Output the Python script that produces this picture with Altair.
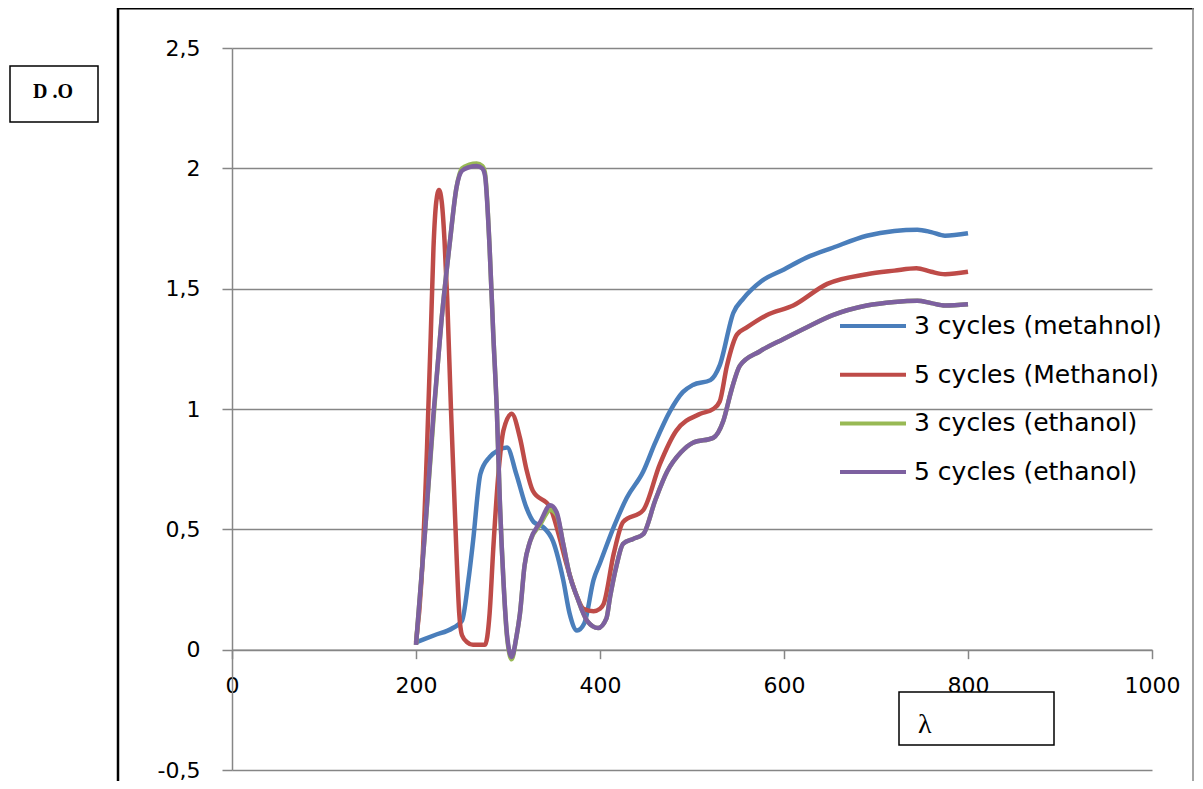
import altair as alt
import pandas as pd

# ---- data ----
series_names = ["3 cycles (metahnol)", "5 cycles (Methanol)", "3 cycles (ethanol)", "5 cycles (ethanol)"]
series_colors = ["#4A7EBB", "#BE4B48", "#98B954", "#7D60A0"]

lam_blue = [200, 220, 240, 250, 257, 262, 270, 280, 290, 299, 309, 320, 328, 338, 349, 360, 367, 375, 383,
            393, 400, 415, 429, 447, 460, 476, 490, 501, 520, 530, 545, 556, 575, 600, 625, 653, 690, 720,
            745, 760, 775, 800]
od_blue = [0.03, 0.06, 0.09, 0.12, 0.29, 0.45, 0.73, 0.80, 0.83, 0.84, 0.73, 0.59, 0.53, 0.51, 0.45, 0.29,
           0.15, 0.08, 0.11, 0.29, 0.36, 0.51, 0.63, 0.74, 0.86, 0.99, 1.07, 1.10, 1.12, 1.18, 1.40, 1.46,
           1.53, 1.58, 1.63, 1.67, 1.72, 1.74, 1.745, 1.735, 1.72, 1.73]

lam_red = [200, 206, 212, 216, 219, 222, 225, 228, 231, 234, 238, 241, 244, 247, 250, 256, 262, 275, 280,
           284, 290, 295, 304, 313, 320, 327, 346, 355, 364, 375, 382, 393, 400, 404, 415, 425, 447, 465,
           483, 509, 523, 530, 538, 549, 560, 581, 610, 647, 690, 720, 744, 760, 775, 800]
od_red = [0.03, 0.29, 0.84, 1.30, 1.67, 1.86, 1.91, 1.86, 1.70, 1.45, 1.00, 0.70, 0.40, 0.15, 0.06, 0.03,
          0.02, 0.02, 0.15, 0.42, 0.75, 0.91, 0.98, 0.88, 0.75, 0.66, 0.59, 0.48, 0.35, 0.22, 0.17, 0.16,
          0.17, 0.19, 0.40, 0.53, 0.58, 0.77, 0.91, 0.98, 1.00, 1.03, 1.18, 1.31, 1.34, 1.39, 1.43, 1.52,
          1.56, 1.575, 1.585, 1.57, 1.56, 1.57]

lam_green = [200, 210, 219, 228, 237, 244, 250, 258, 266, 272, 275, 280, 284, 288, 291, 295, 299, 304, 309,
             313, 318, 324, 335, 346, 353, 360, 367, 375, 386, 398, 407, 411, 418, 425, 436, 447, 460, 473,
             488, 501, 523, 534, 543, 552, 574, 599, 625, 653, 690, 720, 745, 760, 775, 800]
od_green = [0.02, 0.50, 0.96, 1.38, 1.70, 1.92, 2.00, 2.015, 2.02, 2.01, 1.98, 1.67, 1.31, 0.98, 0.63, 0.29,
            0.05, -0.04, 0.05, 0.15, 0.35, 0.45, 0.52, 0.58, 0.56, 0.44, 0.31, 0.22, 0.12, 0.09, 0.13, 0.22,
            0.35, 0.44, 0.46, 0.48, 0.62, 0.74, 0.82, 0.86, 0.88, 0.95, 1.08, 1.18, 1.24, 1.29, 1.34, 1.39,
            1.43, 1.445, 1.45, 1.44, 1.43, 1.435]

lam_purple = [200, 210, 219, 228, 237, 244, 250, 258, 266, 272, 275, 280, 284, 288, 291, 295, 299, 304, 309,
              313, 318, 324, 335, 346, 353, 360, 367, 375, 386, 398, 407, 411, 418, 425, 436, 447, 460, 473,
              488, 501, 523, 534, 543, 552, 574, 599, 625, 653, 690, 720, 745, 760, 775, 800]
od_purple = [0.02, 0.50, 0.98, 1.38, 1.70, 1.92, 1.99, 2.005, 2.01, 2.00, 1.97, 1.67, 1.31, 0.98, 0.63, 0.29,
             0.06, -0.03, 0.05, 0.15, 0.35, 0.45, 0.53, 0.60, 0.57, 0.44, 0.31, 0.22, 0.12, 0.09, 0.13, 0.22,
             0.35, 0.44, 0.46, 0.48, 0.62, 0.74, 0.82, 0.86, 0.88, 0.95, 1.08, 1.18, 1.24, 1.29, 1.34, 1.39,
             1.43, 1.445, 1.45, 1.44, 1.43, 1.435]

x_ticks = [0, 200, 400, 600, 800, 1000]
y_ticks = [-0.5, 0, 0.5, 1, 1.5, 2, 2.5]

y_label = "D .O"
x_label = "λ"

# ---- table ----
rows = []
for name, lams, ods in zip(series_names,
                           [lam_blue, lam_red, lam_green, lam_purple],
                           [od_blue, od_red, od_green, od_purple]):
    for l, v in zip(lams, ods):
        rows.append({"series": name, "lambda": l, "od": v})
df = pd.DataFrame(rows)

GRID = "#868686"
W, H = 920, 722
TOP = 40
RIGHT = 42
BOTTOM = 11

x_enc = alt.X("lambda:Q",
              scale=alt.Scale(domain=[0, 1000], nice=False),
              axis=alt.Axis(values=x_ticks, format="d", grid=False, offset=-H * 0.5 / 3.0, tickSize=9,
                            tickColor=GRID, tickWidth=1.5, domainColor=GRID, domainWidth=1.5,
                            labelFont="DejaVu Sans", labelFontSize=22, labelColor="black",
                            labelPadding=17, labelFlush=False, labelOverlap=False, title=None))
y_enc = alt.Y("od:Q",
              scale=alt.Scale(domain=[-0.5, 2.5], nice=False),
              axis=alt.Axis(values=y_ticks, grid=True, gridColor=GRID, gridWidth=1.5, tickSize=10,
                            tickColor=GRID, tickWidth=1.5, domainColor=GRID, domainWidth=1.5,
                            labelFont="DejaVu Sans", labelFontSize=22, labelColor="black",
                            labelPadding=22, labelFlush=False, labelOverlap=False, title=None,
                            labelExpr="replace(toString(datum.value), '.', ',')"))
color_enc = alt.Color("series:N",
                      scale=alt.Scale(domain=series_names, range=series_colors),
                      legend=alt.Legend(orient="none", legendX=606, legendY=326 - 15 - 8 - TOP, title=None,
                                        symbolType="stroke", symbolSize=4356, symbolStrokeWidth=4,
                                        labelFont="DejaVu Sans", labelFontSize=25, labelColor="black",
                                        labelOffset=6, clipHeight=30, rowPadding=18.7, padding=0,
                                        labelLimit=400))

base = alt.Chart(df).mark_line(strokeWidth=4.5, interpolate="monotone").encode(
    x=x_enc, y=y_enc, color=color_enc)

lines = [base.transform_filter(alt.datum.series == n) for n in series_names]

one = pd.DataFrame({"k": [0]})

frame_left = alt.Chart(one).mark_rule(color="black", strokeWidth=2.5).encode(
    x=alt.value(-114), y=alt.value(-TOP), x2=alt.value(-114), y2=alt.value(800))
frame_top = alt.Chart(one).mark_rule(color="black", strokeWidth=2.5).encode(
    x=alt.value(-115), y=alt.value(-TOP + 0.3), x2=alt.value(W + RIGHT), y2=alt.value(-TOP + 0.3))
frame_right = alt.Chart(one).mark_rule(color=GRID, strokeWidth=1.5).encode(
    x=alt.value(W + RIGHT - 1), y=alt.value(-TOP), x2=alt.value(W + RIGHT - 1), y2=alt.value(800))

do_box = alt.Chart(one).mark_rect(fill="white", stroke="black", strokeWidth=1.5).encode(
    x=alt.value(-222), x2=alt.value(-134), y=alt.value(66 - 8 - TOP), y2=alt.value(122 - 8 - TOP))
do_text = alt.Chart(one).mark_text(text=y_label, font="Liberation Serif", fontWeight="bold",
                                   fontSize=20, color="black", align="center", baseline="middle").encode(
    x=alt.value(-179), y=alt.value(92 - 8 - TOP))

lam_box = alt.Chart(one).mark_rect(fill="white", stroke="black", strokeWidth=1.5).encode(
    x=alt.value(667), x2=alt.value(822), y=alt.value(692 - 8 - TOP), y2=alt.value(745 - 8 - TOP))
lam_text = alt.Chart(one).mark_text(text=x_label, font="Liberation Serif", fontSize=28,
                                    color="black", align="left", baseline="alphabetic").encode(
    x=alt.value(686), y=alt.value(733 - 8 - TOP))

chart = alt.layer(*lines, frame_left, frame_top, frame_right, do_box, do_text, lam_box, lam_text).properties(
    width=W, height=H,
    autosize=alt.AutoSizeParams(type="none"),
    padding={"left": 224, "top": TOP, "right": RIGHT, "bottom": BOTTOM},
).configure_view(stroke=None)

chart.save("out.html", embed_options={"renderer": "svg", "actions": False})
